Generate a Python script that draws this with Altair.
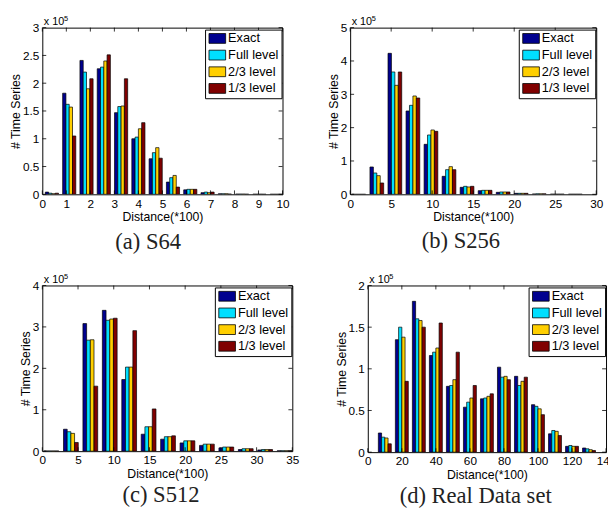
import altair as alt
import pandas as pd

SERIES = ["Exact", "Full level", "2/3 level", "1/3 level"]
COLORS = ["#00008F", "#00DFFF", "#FFCF00", "#800000"]

# ---------------- (a) S64 ----------------
a_centers = [0.4, 1.12, 1.84, 2.56, 3.28, 4.0, 4.72, 5.44, 6.16, 6.88, 7.6, 8.32, 9.04, 9.76]
a_exact = [0.04, 1.82, 2.41, 2.26, 1.47, 1.00, 0.64, 0.22, 0.08, 0.03, 0.01, 0.004, 0.002, 0.001]
a_full = [0.02, 1.62, 2.20, 2.29, 1.58, 1.03, 0.75, 0.30, 0.09, 0.04, 0.01, 0.004, 0.002, 0.001]
a_two = [0.01, 1.57, 1.90, 2.40, 1.59, 1.18, 0.84, 0.34, 0.09, 0.03, 0.01, 0.004, 0.002, 0.001]
a_one = [0.02, 1.05, 2.08, 2.51, 2.08, 1.29, 0.65, 0.13, 0.09, 0.04, 0.005, 0.002, 0.001, 0.0]
a_xticks = [0, 1, 2, 3, 4, 5, 6, 7, 8, 9, 10]
a_yticks = [0, 0.5, 1, 1.5, 2, 2.5, 3]

# ---------------- (b) S256 ----------------
b_centers = [1.05, 3.25, 5.45, 7.65, 9.85, 12.05, 14.25, 16.45, 18.65, 20.85, 23.05, 25.25, 27.45]
b_exact = [0.0, 0.82, 4.23, 2.50, 1.50, 0.54, 0.21, 0.11, 0.06, 0.03, 0.01, 0.005, 0.003]
b_full = [0.0, 0.64, 3.67, 2.67, 1.78, 0.74, 0.24, 0.12, 0.07, 0.03, 0.015, 0.005, 0.003]
b_two = [0.0, 0.56, 3.27, 2.95, 1.93, 0.83, 0.22, 0.12, 0.07, 0.03, 0.015, 0.005, 0.003]
b_one = [0.0, 0.34, 3.67, 2.89, 1.89, 0.74, 0.24, 0.12, 0.07, 0.03, 0.015, 0.005, 0.003]
b_xticks = [0, 5, 10, 15, 20, 25, 30]
b_yticks = [0, 1, 2, 3, 4, 5]

# ---------------- (c) S512 ----------------
c_centers = [1.28, 4.0, 6.72, 9.44, 12.16, 14.88, 17.6, 20.32, 23.04, 25.76, 28.48, 31.2, 33.92]
c_exact = [0.005, 0.53, 3.08, 3.40, 1.73, 0.41, 0.29, 0.20, 0.14, 0.08, 0.04, 0.03, 0.01]
c_full = [0.005, 0.47, 2.68, 3.16, 2.03, 0.59, 0.35, 0.25, 0.17, 0.10, 0.06, 0.04, 0.01]
c_two = [0.005, 0.43, 2.69, 3.19, 2.03, 0.59, 0.35, 0.25, 0.17, 0.10, 0.06, 0.04, 0.01]
c_one = [0.005, 0.21, 1.57, 3.21, 2.91, 1.02, 0.37, 0.25, 0.17, 0.10, 0.06, 0.04, 0.01]
c_xticks = [0, 5, 10, 15, 20, 25, 30, 35]
c_yticks = [0, 1, 2, 3, 4]

# ---------------- (d) Real Data set ----------------
d_centers = [10, 20, 30, 40, 50, 60, 70, 80, 90, 100, 110, 120, 130]
d_exact = [0.23, 1.35, 1.81, 1.16, 0.79, 0.54, 0.64, 1.02, 0.91, 0.57, 0.22, 0.07, 0.05]
d_full = [0.18, 1.50, 1.60, 1.20, 0.80, 0.60, 0.65, 0.90, 0.80, 0.55, 0.26, 0.08, 0.04]
d_two = [0.17, 1.38, 1.58, 1.25, 0.87, 0.65, 0.67, 0.91, 0.85, 0.52, 0.25, 0.07, 0.03]
d_one = [0.10, 0.85, 1.50, 1.55, 1.20, 0.80, 0.70, 0.87, 0.90, 0.45, 0.20, 0.07, 0.02]
d_xticks = [0, 20, 40, 60, 80, 100, 120, 140]
d_yticks = [0, 0.5, 1, 1.5, 2]

SANS = "Liberation Sans"
SERIF = "Liberation Serif"
ONE = pd.DataFrame({"a": [0]})


def panel(centers, vals, xticks, yticks, W, H, caption, cap_dx, cap_dy, box):
    L, T, R, B = box
    rows = []
    for k, c in enumerate(centers):
        for i, s in enumerate(SERIES):
            rows.append({"center": c, "series": s, "idx": i, "v": vals[i][k]})
    df = pd.DataFrame(rows)
    bw = 0.19 * (centers[1] - centers[0])
    xs = alt.Scale(domain=[xticks[0], xticks[-1]], nice=False, zero=False)
    ys = alt.Scale(domain=[yticks[0], yticks[-1]], nice=False)
    xax = alt.Axis(values=xticks, title="Distance(*100)", format="~r")
    yax = alt.Axis(values=yticks, title="# Time Series", format="~r")

    bars = alt.Chart(df).transform_calculate(
        x0=f"datum.center + (datum.idx - 2) * {bw}",
        x1=f"datum.center + (datum.idx - 1) * {bw}",
    ).mark_bar(stroke="black", strokeWidth=0.7, clip=True).encode(
        x=alt.X("x0:Q", scale=xs, axis=xax),
        x2="x1:Q",
        y=alt.Y("v:Q", scale=ys, axis=yax),
        y2=alt.datum(0),
        color=alt.Color(
            "series:N",
            scale=alt.Scale(domain=SERIES, range=COLORS),
            legend=alt.Legend(
                title=None, orient="top-right", offset=1.5, padding=2.5,
                fillColor="white", strokeColor="black",
                symbolType="M-1,-1H2.4V1H-1Z", symbolSize=100,
                symbolStrokeColor="black", symbolStrokeWidth=0.8,
                labelFont=SANS, labelFontSize=13, labelColor="black",
                labelOffset=8, rowPadding=2,
            ),
        ),
    )

    ydf = pd.DataFrame({"t": yticks})
    xdf = pd.DataFrame({"t": xticks})
    tick_style = dict(color="black", strokeWidth=0.8)
    yl = alt.Chart(ydf).mark_rule(**tick_style).encode(
        y=alt.Y("t:Q", scale=ys, axis=yax), x=alt.value(0), x2=alt.value(4))
    yr = alt.Chart(ydf).mark_rule(**tick_style).encode(
        y=alt.Y("t:Q", scale=ys, axis=yax), x=alt.value(W - 4), x2=alt.value(W))
    xb = alt.Chart(xdf).mark_rule(**tick_style).encode(
        x=alt.X("t:Q", scale=xs, axis=xax), y=alt.value(H), y2=alt.value(H - 4))
    xt = alt.Chart(xdf).mark_rule(**tick_style).encode(
        x=alt.X("t:Q", scale=xs, axis=xax), y=alt.value(0), y2=alt.value(4))

    exp_txt = alt.Chart(ONE).mark_text(
        text="x 10", align="left", baseline="alphabetic", font=SANS, fontSize=11, color="black"
    ).encode(x=alt.value(1.5), y=alt.value(-3))
    sup_txt = alt.Chart(ONE).mark_text(
        text="5", align="left", baseline="alphabetic", font=SANS, fontSize=7.5, color="black"
    ).encode(x=alt.value(22), y=alt.value(-7))
    cap_txt = alt.Chart(ONE).mark_text(
        text=caption, align="center", baseline="alphabetic", font=SERIF, fontSize=23, color="#222222"
    ).encode(x=alt.value(W / 2 + cap_dx), y=alt.value(H + cap_dy))
    # invisible frame that fixes the panel's outer extent in the layout
    frame = alt.Chart(ONE).mark_rule(opacity=0).encode(
        x=alt.value(-L), y=alt.value(-T), x2=alt.value(W + R), y2=alt.value(H + B))

    return alt.layer(bars, yl, yr, xb, xt, exp_txt, sup_txt, cap_txt, frame).properties(
        width=W, height=H)


pa = panel(a_centers, [a_exact, a_full, a_two, a_one], a_xticks, a_yticks,
           245, 170, "(a) S64", -14.5, 56, (34, 15, 43, 62))
pb = panel(b_centers, [b_exact, b_full, b_two, b_one], b_xticks, b_yticks,
           251, 170, "(b) S256", -12.5, 55, (24, 15, 15, 62))
pc = panel(c_centers, [c_exact, c_full, c_two, c_one], c_xticks, c_yticks,
           255, 169, "(c) S512", -6.5, 52, (24, 29, 41, 57))
pd_ = panel(d_centers, [d_exact, d_full, d_two, d_one], d_xticks, d_yticks,
            243, 170, "(d) Real Data set", -11.5, 52, (34, 29, 15, 57))

row1 = alt.hconcat(pa, pb, spacing=0).resolve_scale(color="independent")
row2 = alt.hconcat(pc, pd_, spacing=0).resolve_scale(color="independent")

chart = alt.vconcat(row1, row2, spacing=0).resolve_scale(
    color="independent"
).properties(
    padding={"left": 0, "top": -1, "right": -14, "bottom": -2}
).configure_view(
    stroke="black", strokeWidth=1
).configure_axis(
    labelFont=SANS, labelFontSize=12, labelColor="black",
    titleFont=SANS, titleFontSize=12.5, titleFontWeight="normal", titleColor="black",
    domain=False, ticks=False, grid=False,
).configure_axisX(
    labelFlush=False, labelOverlap=False, labelPadding=4, titlePadding=2,
).configure_axisY(
    labelPadding=3.5, titlePadding=0, labelOverlap=False,
)

chart.save("out.html", embed_options={"renderer": "svg", "actions": False})
